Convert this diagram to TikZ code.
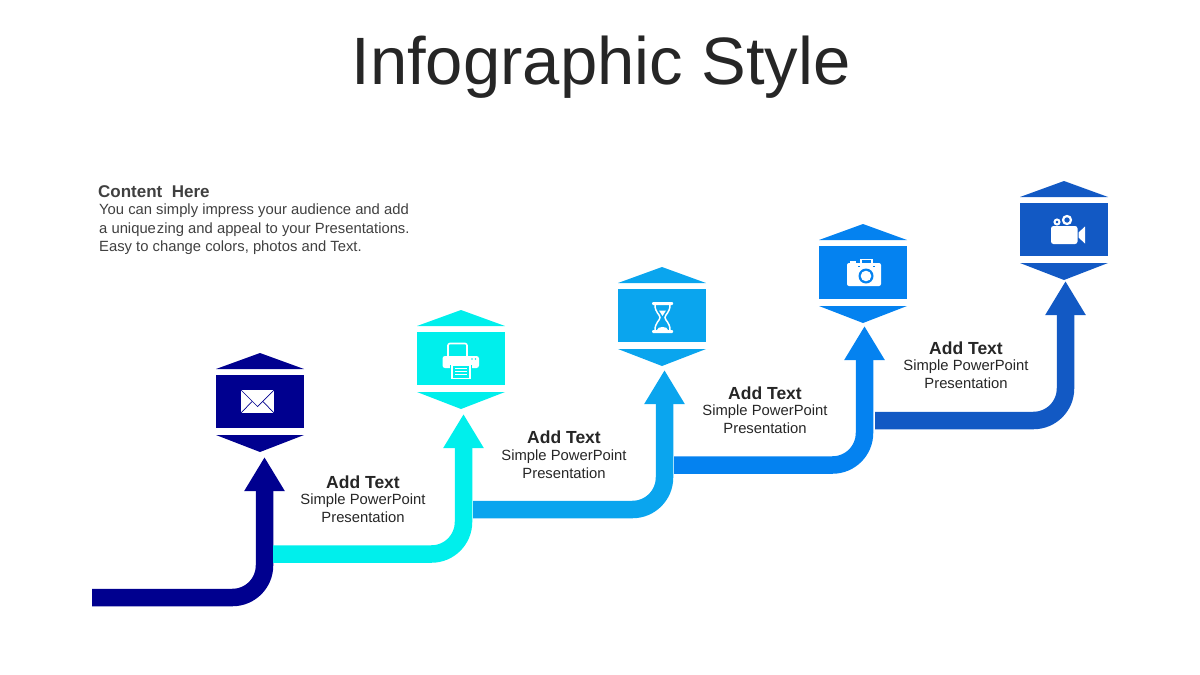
\documentclass[tikz,border=0pt]{standalone}
\usepackage{fontspec}
\setmainfont{Liberation Sans}
\usetikzlibrary{arrows.meta, positioning}
\definecolor{mNavy}{HTML}{00008F}
\definecolor{mCyan}{HTML}{00EFEC}
\definecolor{mSky}{HTML}{0AA5EE}
\definecolor{mAzure}{HTML}{0482F0}
\definecolor{mCobalt}{HTML}{1259C4}
\definecolor{mInk}{HTML}{262626}
\definecolor{mGrey}{HTML}{404040}

\begin{document}
\begin{tikzpicture}[x=1pt, y=-1pt,
      panel/.style={rectangle, minimum width=88.5pt, minimum height=53pt, inner sep=0pt, fill=#1},
      stair/.style={line width=17.5pt, rounded corners=32pt, draw=#1, -{Triangle[length=34pt, width=38pt]}},
      head/.style={font=\fontsize{17.5}{20}\selectfont\bfseries, text=mInk, inner sep=0pt},
      note/.style={font=\fontsize{14.8}{18.2}\selectfont, text=mInk, align=center, inner sep=0pt}]
    \useasboundingbox (0,0) rectangle (1200,675);
    \node[font=\fontsize{67}{70}\selectfont, text=mInk, inner sep=0pt] (title) at (601,67) {Infographic Style};
    \node[anchor=west, font=\fontsize{17}{20}\selectfont\bfseries, text=mGrey, inner sep=0pt] (content) at (98,192) {Content\ \ Here};
    \node[anchor=north west, font=\fontsize{14.8}{18.3}\selectfont, text=mGrey, align=left, inner sep=0pt] (blurb) at (99,204)
      {You can simply impress your audience and add\\a unique\kern1pt zing and appeal to your Presentations.\\Easy to change colors, photos and Text.};
    % steps
    \foreach \i/\xt/\xa/\yh/\yt/\col in {1/92/264.5/597.5/457/mNavy, 2/273/463.5/554/414/mCyan,
        3/473/664.5/509.5/370/mSky, 4/674/864.5/465/326/mAzure, 5/875/1065.5/420.5/281/mCobalt} {
      \coordinate (tail\i) at (\xt,\yh);
      \coordinate (tip\i) at (\xa,\yt);
      \draw[stair=\col] (tail\i) -| (tip\i);
    }
    % hexagon panels
    \foreach \i/\xb/\yb/\col in {1/260/401.5/mNavy, 2/461/358.5/mCyan, 3/662/315.5/mSky, 4/863/272.5/mAzure, 5/1064/229.5/mCobalt} {
      \node[panel=\col] (box\i) at (\xb,\yb) {};
      \fill[\col] (\xb-44,\yb-32.5) -- (\xb,\yb-48.5) -- (\xb+44,\yb-32.5) -- cycle;
      \fill[\col] (\xb-44,\yb+33.5) -- (\xb,\yb+50.5) -- (\xb+44,\yb+33.5) -- cycle;
    }
    % labels
    \foreach \i/\xl/\yl in {1/363/482, 2/564/437.5, 3/765/393, 4/966/348} {
      \node[head] (add\i) at (\xl,\yl) {Add Text};
      \node[note, below=5pt of add\i] (sub\i) {Simple PowerPoint\\Presentation};
    }
    % envelope
    \begin{scope}[shift={(box1.center)}]
      \fill[white] (-19,-11.5) rectangle (14,11.5);
      \draw[mNavy, line width=0.7pt] (-19,-11.5) -- (-2.5,5) -- (14,-11.5);
      \draw[mNavy, line width=0.7pt] (-19,11.5) -- (-8,0) (14,11.5) -- (3,0);
    \end{scope}
    % printer
    \begin{scope}[shift={(box2.center)}]
      \draw[white, line width=1.6pt, rounded corners=2pt] (-13,-1) -- (-13,-15) -- (6,-15) -- (6,-1);
      \fill[white, rounded corners=2.5pt] (-18.5,-2.5) rectangle (18,9.5);
      \fill[mCyan] (11,0.5) circle (0.8) (14.5,0.5) circle (0.8);
      \fill[mCyan] (-11,6) rectangle (11,21);
      \draw[white, line width=1.2pt] (-9,6.5) rectangle (9,20);
      \draw[white, line width=1pt] (-6,10) -- (6,10) (-6,13) -- (6,13) (-6,16) -- (6,16);
    \end{scope}
    % hourglass
    \begin{scope}[shift={(box3.center)}]
      \fill[white, rounded corners=1pt] (-10,-13.5) rectangle (11,-10.5);
      \fill[white, rounded corners=1pt] (-10,14.5) rectangle (11,17.5);
      \draw[white, line width=1.5pt] (-7,-10.5) .. controls (-7,-3) and (-2,-1) .. (-2,2) .. controls (-2,5) and (-7,7) .. (-7,14.5);
      \draw[white, line width=1.5pt] (8,-10.5) .. controls (8,-3) and (3,-1) .. (3,2) .. controls (3,5) and (8,7) .. (8,14.5);
      \fill[white] (-3,-5) -- (4,-5) -- (0.5,0.5) -- cycle;
      \fill[white] (-5,14.5) .. controls (-5,10) and (6,10) .. (6,14.5) -- cycle;
    \end{scope}
    % camera
    \begin{scope}[shift={(box4.center)}]
      \draw[white, line width=1.5pt] (-2,-8) -- (-2,-13) -- (9,-13) -- (9,-8);
      \fill[white, rounded corners=2pt] (-16,-9.5) rectangle (18,13.5);
      \fill[white] (-13,-11.5) rectangle (-7,-9);
      \fill[mAzure] (3,3.5) circle (7.5);
      \fill[white] (3,3.5) circle (5.3);
      \draw[mAzure, line width=0.8pt] (-5,-6) -- (-3,-6) (10,-6) -- (12,-6);
    \end{scope}
    % video camera
    \begin{scope}[shift={(box5.center)}]
      \fill[white, rounded corners=2.5pt] (-13,-3.5) rectangle (13.5,14.5);
      \fill[white] (14.5,3) -- (21,-3) -- (21,14) -- (14.5,8) -- cycle;
      \draw[white, line width=2pt, fill=mCobalt] (-7,-7.5) circle (2.5);
      \draw[white, line width=2.2pt, fill=mCobalt] (3,-9.5) circle (4);
    \end{scope}
\end{tikzpicture}
\end{document}
